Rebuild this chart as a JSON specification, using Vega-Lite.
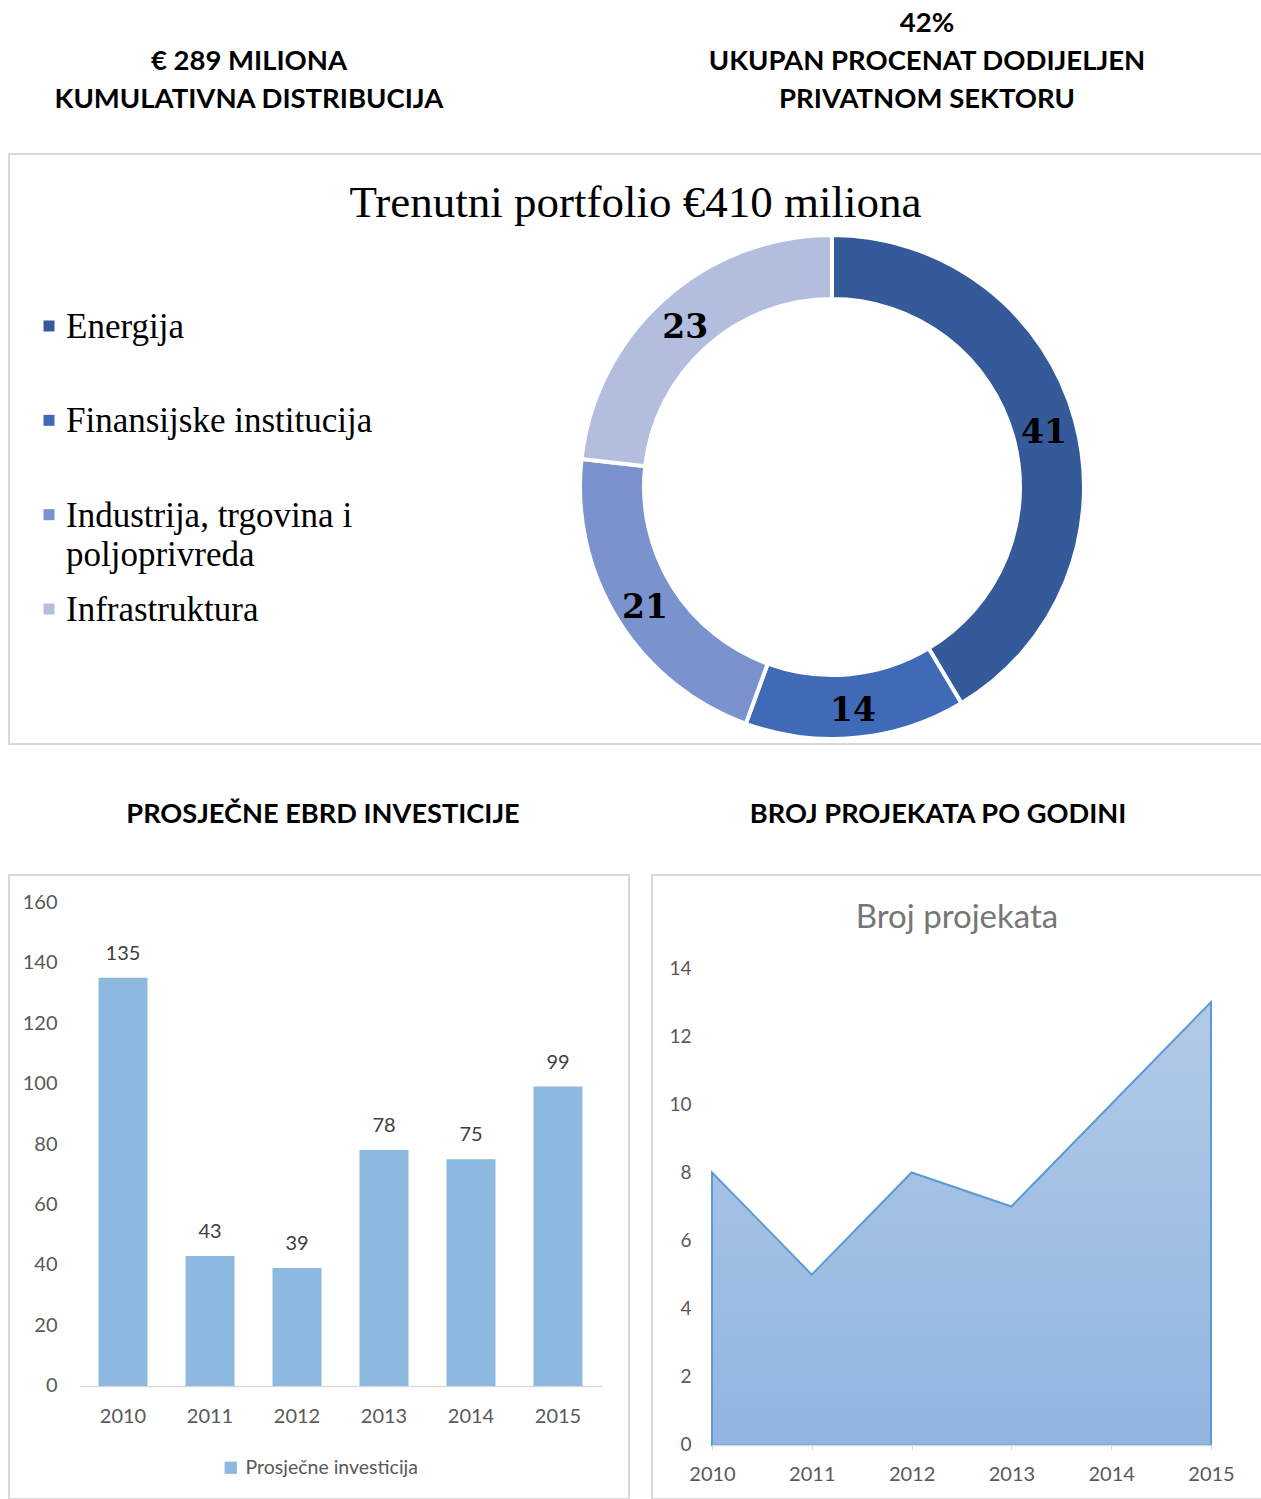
{
  "$schema": "https://vega.github.io/schema/vega-lite/v6.json",
  "padding": {"left": 8, "top": 0, "right": 0, "bottom": 0},
  "background": "white",
  "spacing": 0,
  "bounds": "flush",
  "resolve": {"scale": {"color": "independent"}, "legend": {"color": "independent"}},
  "vconcat": [
    {
      "width": 1253,
      "height": 154,
      "view": {"stroke": null},
      "data": {"values": [
        {"side": "L", "line": 1, "text": "€ 289 MILIONA"},
        {"side": "L", "line": 2, "text": "KUMULATIVNA DISTRIBUCIJA"},
        {"side": "R", "line": 0, "text": "42%"},
        {"side": "R", "line": 1, "text": "UKUPAN PROCENAT DODIJELJEN"},
        {"side": "R", "line": 2, "text": "PRIVATNOM SEKTORU"}
      ]},
      "mark": {"type": "text", "font": "Lato", "fontWeight": "bold", "fontSize": 27.5, "color": "#000000", "baseline": "middle", "align": "center"},
      "encoding": {
        "x": {"field": "side", "type": "nominal", "scale": {"type": "point", "domain": ["L", "R"], "range": [240, 918], "padding": 0}, "axis": null},
        "y": {"field": "line", "type": "ordinal", "scale": {"type": "point", "domain": [0, 1, 2], "range": [24, 100], "padding": 0}, "axis": null},
        "text": {"field": "text"}
      }
    },
    {
      "width": 1253,
      "height": 590,
      "view": {"stroke": "#D9D9D9", "strokeWidth": 2},
      "title": {"text": "Trenutni portfolio €410 miliona", "font": "Liberation Serif", "fontSize": 45, "fontWeight": "normal", "color": "#000000", "anchor": "middle", "offset": -72},
      "data": {"values": [
        {"sector": "Energija", "value": 41, "label": "Energija"},
        {"sector": "Finansijske institucija", "value": 14, "label": "Finansijske institucija"},
        {"sector": "Industrija, trgovina i poljoprivreda", "value": 21, "label": "Industrija, trgovina i\npoljoprivreda"},
        {"sector": "Infrastruktura", "value": 23, "label": "Infrastruktura"}
      ]},
      "layer": [
        {
          "mark": {"type": "arc", "outerRadius": 252, "innerRadius": 188, "stroke": "#ffffff", "strokeWidth": 4},
          "encoding": {
            "theta": {"field": "value", "type": "quantitative", "stack": true},
            "order": {"field": "sector", "type": "nominal", "sort": "ascending"},
            "color": {"field": "sector", "type": "nominal", "scale": {"domain": ["Energija", "Finansijske institucija", "Industrija, trgovina i poljoprivreda", "Infrastruktura"], "range": ["#345A9A", "#3E6AB8", "#7A92CE", "#B3BEDE"]}, "legend": null},
            "x": {"datum": "donut", "type": "nominal", "scale": {"type": "point", "domain": ["legend", "donut"], "range": [40, 823], "padding": 0}, "axis": null},
            "y": {"datum": "donut", "type": "nominal", "scale": {"type": "point", "domain": ["donut"], "range": [333, 333], "padding": 0}, "axis": null}
          }
        },
        {
          "mark": {"type": "text", "radius": 220, "font": "DejaVu Serif", "fontWeight": "bold", "fontSize": 33, "color": "#000000", "baseline": "middle", "align": "center", "dy": 5},
          "encoding": {
            "theta": {"field": "value", "type": "quantitative", "stack": true},
            "order": {"field": "sector", "type": "nominal", "sort": "ascending"},
            "text": {"field": "value", "type": "quantitative"},
            "x": {"datum": "donut", "type": "nominal", "scale": {"type": "point", "domain": ["legend", "donut"], "range": [40, 823], "padding": 0}, "axis": null},
            "y": {"datum": "donut", "type": "nominal", "scale": {"type": "point", "domain": ["donut"], "range": [333, 333], "padding": 0}, "axis": null}
          }
        },
        {
          "mark": {"type": "square", "size": 121, "filled": true, "opacity": 1},
          "encoding": {
            "x": {"datum": "legend", "type": "nominal", "scale": {"type": "point", "domain": ["legend", "donut"], "range": [40, 823], "padding": 0}, "axis": null},
            "y": {"field": "sector", "type": "nominal", "scale": {"type": "point", "domain": ["Energija", "Finansijske institucija", "Industrija, trgovina i poljoprivreda", "Infrastruktura"], "range": [172, 455], "padding": 0}, "axis": null},
            "color": {"field": "sector", "type": "nominal", "scale": {"domain": ["Energija", "Finansijske institucija", "Industrija, trgovina i poljoprivreda", "Infrastruktura"], "range": ["#345A9A", "#3E6AB8", "#7A92CE", "#B3BEDE"]}, "legend": null}
          }
        },
        {
          "mark": {"type": "text", "font": "Liberation Serif", "fontSize": 35, "color": "#000000", "align": "left", "baseline": "alphabetic", "dx": 17, "dy": 12, "lineBreak": "\n", "lineHeight": 39},
          "encoding": {
            "x": {"datum": "legend", "type": "nominal", "scale": {"type": "point", "domain": ["legend", "donut"], "range": [40, 823], "padding": 0}, "axis": null},
            "y": {"field": "sector", "type": "nominal", "scale": {"type": "point", "domain": ["Energija", "Finansijske institucija", "Industrija, trgovina i poljoprivreda", "Infrastruktura"], "range": [172, 455], "padding": 0}, "axis": null},
            "text": {"field": "label"}
          }
        }
      ],
      "resolve": {"scale": {"y": "independent"}}
    },
    {
      "width": 1253,
      "height": 131,
      "view": {"stroke": null},
      "data": {"values": [
        {"side": "L", "text": "PROSJEČNE EBRD INVESTICIJE"},
        {"side": "R", "text": "BROJ PROJEKATA PO GODINI"}
      ]},
      "mark": {"type": "text", "font": "Lato", "fontWeight": "bold", "fontSize": 27.2, "color": "#000000", "baseline": "middle", "align": "center"},
      "encoding": {
        "x": {"field": "side", "type": "nominal", "scale": {"type": "point", "domain": ["L", "R"], "range": [314, 929], "padding": 0}, "axis": null},
        "y": {"datum": "t", "type": "nominal", "scale": {"type": "point", "domain": ["t"], "range": [71, 71], "padding": 0}, "axis": null},
        "text": {"field": "text"}
      }
    },
    {
      "spacing": 23,
      "bounds": "flush",
      "resolve": {"scale": {"color": "independent"}, "legend": {"color": "independent"}},
      "hconcat": [
        {
          "width": 620,
          "height": 624,
          "view": {"stroke": "#D9D9D9", "strokeWidth": 2},
          "data": {"values": [
            {"year": "2010", "value": 135, "series": "Prosječne investicija"},
            {"year": "2011", "value": 43, "series": "Prosječne investicija"},
            {"year": "2012", "value": 39, "series": "Prosječne investicija"},
            {"year": "2013", "value": 78, "series": "Prosječne investicija"},
            {"year": "2014", "value": 75, "series": "Prosječne investicija"},
            {"year": "2015", "value": 99, "series": "Prosječne investicija"}
          ]},
          "layer": [
            {
              "mark": {"type": "bar"},
              "encoding": {
                "x": {"field": "year", "type": "ordinal", "scale": {"range": [70.5, 592.5], "paddingInner": 0.437, "paddingOuter": 0.2185}, "axis": {"orient": "bottom", "offset": -113, "labelFont": "Lato", "labelFontSize": 20, "labelColor": "#595959", "labelPadding": 20, "ticks": false, "domainColor": "#D9D9D9", "domainWidth": 1.5, "title": null, "labelAngle": 0}},
                "y": {"field": "value", "type": "quantitative", "scale": {"domain": [-37.36, 168.93], "nice": false, "zero": false}, "axis": {"values": [0, 20, 40, 60, 80, 100, 120, 140, 160], "offset": -48, "ticks": false, "domain": false, "grid": false, "labelFont": "Lato", "labelFontSize": 20, "labelColor": "#595959", "labelPadding": 0, "title": null}},
                "y2": {"datum": 0},
                "color": {"field": "series", "type": "nominal", "scale": {"domain": ["Prosječne investicija"], "range": ["#8DB8E0"]}, "legend": {"orient": "none", "legendX": 212, "legendY": 583, "title": null, "padding": 0, "symbolType": "square", "symbolSize": 150, "symbolStrokeWidth": 0, "labelFont": "Lato", "labelFontSize": 19.5, "labelColor": "#595959", "labelOffset": 5, "labelLimit": 400}}
              }
            },
            {
              "mark": {"type": "text", "baseline": "bottom", "dy": -14, "font": "Lato", "fontSize": 20, "color": "#404040"},
              "encoding": {
                "x": {"field": "year", "type": "ordinal"},
                "y": {"field": "value", "type": "quantitative"},
                "text": {"field": "value", "type": "quantitative"}
              }
            }
          ]
        },
        {
          "width": 610,
          "height": 624,
          "view": {"stroke": "#D9D9D9", "strokeWidth": 2},
          "title": {"text": "Broj projekata", "font": "Lato", "fontSize": 33, "fontWeight": "normal", "color": "#767676", "anchor": "middle", "offset": -60},
          "data": {"values": [
            {"year": "2010", "count": 8},
            {"year": "2011", "count": 5},
            {"year": "2012", "count": 8},
            {"year": "2013", "count": 7},
            {"year": "2014", "count": 10},
            {"year": "2015", "count": 13}
          ]},
          "mark": {"type": "area", "stroke": "#5B9BD5", "strokeWidth": 2, "color": {"gradient": "linear", "x1": 0, "y1": 0, "x2": 0, "y2": 1, "stops": [{"offset": 0, "color": "#B2CAE7"}, {"offset": 1, "color": "#91B5E1"}]}},
          "encoding": {
            "x": {"field": "year", "type": "ordinal", "scale": {"type": "point", "range": [60, 559], "padding": 0}, "axis": {"offset": -54, "labelFont": "Lato", "labelFontSize": 20, "labelColor": "#595959", "domainColor": "#D9D9D9", "domainWidth": 1.5, "tickColor": "#D9D9D9", "tickSize": 5, "labelPadding": 14, "zindex": 1, "labelAngle": 0, "title": null}},
            "y": {"field": "count", "type": "quantitative", "scale": {"domain": [-1.585, 16.73], "nice": false, "zero": false}, "axis": {"values": [0, 2, 4, 6, 8, 10, 12, 14], "offset": -39, "ticks": false, "domain": false, "grid": false, "labelFont": "Lato", "labelFontSize": 19, "labelColor": "#595959", "labelPadding": 0, "title": null}},
            "y2": {"datum": 0}
          }
        }
      ]
    }
  ]
}
